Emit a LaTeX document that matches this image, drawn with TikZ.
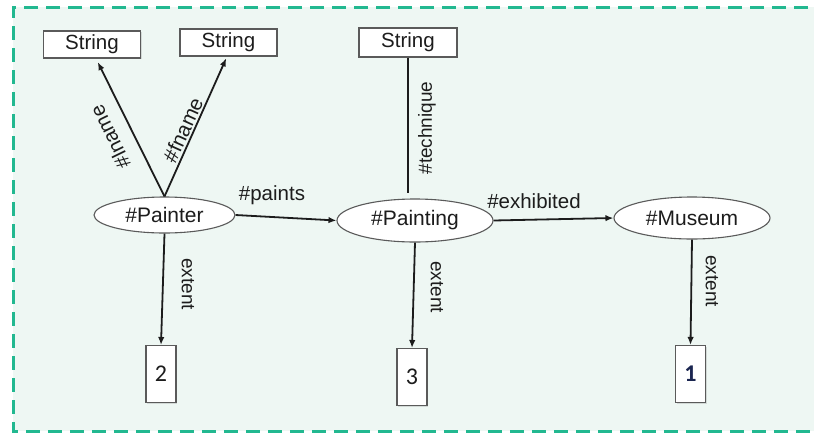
\documentclass[tikz,border=0pt]{standalone}
\usepackage{fontspec}
\setmainfont{Liberation Sans}
\newfontfamily\digitfont{Carlito}
\usetikzlibrary{arrows.meta,shapes.geometric,shadows}
\definecolor{mint}{HTML}{EEF7F3}
\definecolor{frameteal}{HTML}{22B890}
\definecolor{inkdark}{HTML}{1C1C1C}
\definecolor{edgegray}{HTML}{5A5A5A}
\definecolor{navy}{HTML}{1A2550}
\tikzset{
  classnode/.style={ellipse, draw=edgegray, line width=1.1pt, fill=white, inner sep=0pt,
    font=\fontsize{21}{23}\selectfont, text=inkdark},
  strbox/.style={rectangle, draw=edgegray, line width=1.1pt, fill=white, inner sep=0pt,
    minimum width=97pt, minimum height=27pt, font=\fontsize{20.5}{22}\selectfont, text=inkdark,
    drop shadow={shadow xshift=1.2pt, shadow yshift=-1.2pt, opacity=0.25}},
  numbox/.style={rectangle, draw=edgegray, line width=1.1pt, fill=white, inner sep=0pt,
    minimum width=30pt, minimum height=57pt, font=\digitfont\fontsize{24}{26}\selectfont, text=inkdark,
    drop shadow={shadow xshift=1.2pt, shadow yshift=-1.2pt, opacity=0.25}},
  relarrow/.style={draw=inkdark, line width=1.8pt, -{Latex[length=8pt,width=6.5pt]}},
  relline/.style={draw=inkdark, line width=1.8pt},
  edgelabel/.style={font=\fontsize{20.5}{22}\selectfont, text=inkdark, inner sep=0pt},
  sidelabel/.style={font=\fontsize{19}{20}\selectfont, text=inkdark, inner sep=0pt},
}
\begin{document}
\begin{tikzpicture}[x=1pt,y=-1pt]
\useasboundingbox (0,0) rectangle (814,432);
\fill[white] (0,0) rectangle (814,432);
\fill[mint] (13,7) rectangle (830,431);
\draw[frameteal, line width=3pt, dash pattern=on 14pt off 8pt] (830,7) -- (13,7) -- (13,431) -- (830,431);

% string boxes
\node[strbox] (s1) at (92,44.5) {String};
\node[strbox] (s2) at (228.5,42.5) {String};
\node[strbox, minimum width=98pt, minimum height=29pt] (s3) at (408,42.5) {String};

% class ellipses
\node[classnode, minimum width=141pt, minimum height=36pt] (painter) at (164.5,215) {\#Painter};
\node[classnode, minimum width=156pt, minimum height=43pt] (painting) at (415,220.5) {\#Painting};
\node[classnode, minimum width=156pt, minimum height=42pt] (museum) at (692,218) {\#Museum};

% number boxes
\node[numbox] (n2) at (161,374) {2};
\node[numbox] (n3) at (412,377) {3};
\node[numbox, font=\digitfont\bfseries\fontsize{24}{26}\selectfont, text=navy] (n1) at (690.5,374) {1};

% connectors
\draw[relarrow, shorten >=4pt] (painter.north) -- ([xshift=4pt]s1.south);
\draw[relarrow, shorten >=2pt] (painter.north) -- ([xshift=-1.5pt]s2.south);
\draw[relarrow] (painter.east) -- (painting.west);
\draw[relarrow] (painting.east) -- (museum.west);
\coordinate (techend) at (408,193);
\draw[relline] (s3.south) -- (techend);
\draw[relarrow] (painter.south) -- (n2.north);
\draw[relarrow] (painting.south) -- (n3.north);
\draw[relarrow] (museum.south) -- (n1.north);

% labels
\node[edgelabel, rotate=116] (lblln) at (110,137) {\#lname};
\node[edgelabel, rotate=65.5] (lblfn) at (183,130) {\#fname};
\node[edgelabel] (lblpaints) at (272,195) {\#paints};
\node[edgelabel] (lblexh) at (534,201) {\#exhibited};
\node[sidelabel, rotate=90] (lbltech) at (427,128) {\#technique};
\node[sidelabel, rotate=-90] (lblext1) at (188,284) {extent};
\node[sidelabel, rotate=-90] (lblext2) at (437,287) {extent};
\node[sidelabel, rotate=-90] (lblext3) at (712,281) {extent};
\end{tikzpicture}
\end{document}
